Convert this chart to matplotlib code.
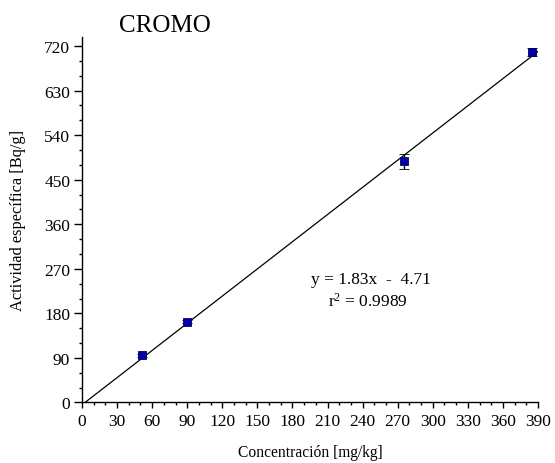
import matplotlib
matplotlib.use("Agg")
import matplotlib.pyplot as plt
from matplotlib.ticker import MultipleLocator
import numpy as np

plt.rcParams['font.family'] = ['Liberation Serif', 'DejaVu Serif']
plt.rcParams['mathtext.fontset'] = 'custom'
plt.rcParams['mathtext.rm'] = 'Liberation Serif'
plt.rcParams['mathtext.it'] = 'Liberation Serif:italic'

# Measured data: concentration [mg/kg] vs specific activity [Bq/g]
concentracion = [51.5, 89.5, 275.0, 385.0]
actividad = [95.0, 163.0, 487.0, 708.0]
error_actividad = [3.0, 3.0, 15.0, 7.5]

# Linear fit
pendiente = 1.83
ordenada = -4.71
r2 = 0.9989

x_ticks = list(range(0, 391, 30))
y_ticks = list(range(0, 721, 90))

fig = plt.figure(figsize=(5.55, 4.64), dpi=100)
ax = fig.add_axes([0.1477, 0.1304, 0.8217, 0.7876])

xf = np.array([0.0, 390.0])
ax.plot(xf, pendiente * xf + ordenada, color='black', lw=0.9, zorder=2)

ax.errorbar(concentracion, actividad, yerr=error_actividad, fmt='s',
            color='#0000a8', mec='#000060', mew=0.6, ms=6,
            ecolor='black', elinewidth=1.0, capsize=3.5, capthick=1.0, zorder=3)

ax.set_xlim(0, 390)
ax.set_ylim(0, 738)
ax.set_xticks(x_ticks)
ax.set_yticks(y_ticks)
ax.xaxis.set_minor_locator(MultipleLocator(10))
ax.yaxis.set_minor_locator(MultipleLocator(30))

for side in ('top', 'right'):
    ax.spines[side].set_visible(False)
for side in ('left', 'bottom'):
    ax.spines[side].set_linewidth(1.0)

ax.tick_params(which='major', direction='out', length=4.5, width=1.0,
               labelsize=12.5, pad=3)
ax.tick_params(axis='y', which='major', length=5.5)
ax.tick_params(which='minor', direction='out', length=2.5, width=1.0)

ax.set_xlabel('Concentración [mg/kg]', fontsize=11.2, labelpad=11)
ax.set_ylabel('Actividad específica [Bq/g]', fontsize=11.8, labelpad=13)

fig.text(0.297, 0.945, 'CROMO', fontsize=18, ha='center', va='center')

ax.text(0.634, 0.338, 'y = 1.83x  -  4.71', transform=ax.transAxes,
        fontsize=12.5, ha='center', va='center')
ax.text(0.627, 0.278, r'r$^{\mathregular{2}}$ = ' + f'{r2:.4f}', transform=ax.transAxes,
        fontsize=12.5, ha='center', va='center')

fig.savefig('out.png', dpi=100)
